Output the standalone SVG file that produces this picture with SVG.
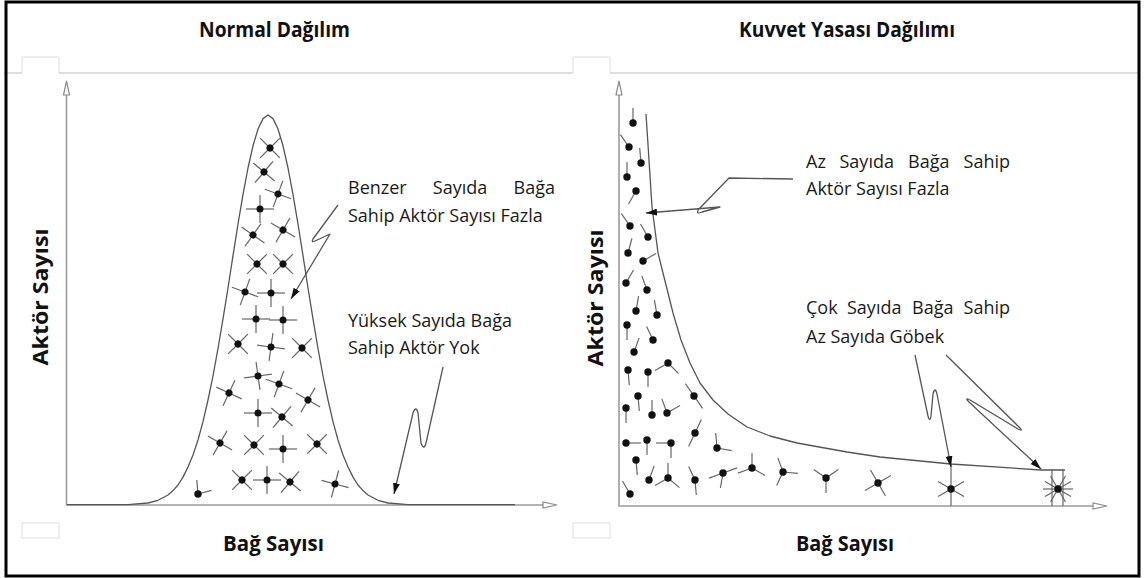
<svg xmlns="http://www.w3.org/2000/svg" width="1147" height="578" viewBox="0 0 1147 578">
<style>
.title{font-family:"Open Sans","Liberation Sans",sans-serif;font-weight:700;font-size:22px;fill:#111;text-anchor:middle}
.ylab{font-family:"Open Sans","Liberation Sans",sans-serif;font-weight:700;font-size:22px;fill:#111;text-anchor:middle}
.note{font-family:"Open Sans","Liberation Sans",sans-serif;font-size:18px;fill:#1a1a1a}
.axis{stroke:#9c9c9c;stroke-width:1.6;fill:none}
.ahead{fill:#fff;stroke:#8a8a8a;stroke-width:1.2}
.curve{stroke:#555;stroke-width:1.3;fill:none;stroke-linejoin:round}
.arm{stroke:#666;stroke-width:1.2}
.dot{fill:#111}
.conn{stroke:#555;stroke-width:1.3;fill:none;stroke-linejoin:round;marker-end:url(#ah)}
.sep{stroke:#bdbdbd;stroke-width:1.2;fill:none}
.notch{stroke:#dedede;stroke-width:1;fill:none}
</style>
<defs>
<marker id="ah" markerUnits="userSpaceOnUse" markerWidth="11" markerHeight="7" refX="11" refY="3.5" orient="auto"><path d="M0,0 L11,3.5 L0,7 z" fill="#111"/></marker>
<line id="a" class="arm" x1="0" y1="0" x2="14" y2="0"/>
<line id="s" class="arm" x1="0" y1="0" x2="15" y2="0"/>
<circle id="d" class="dot" r="3.7"/>
<g id="p"><use href="#a"/><use href="#a" transform="rotate(90)"/><use href="#a" transform="rotate(180)"/><use href="#a" transform="rotate(270)"/><circle class="dot" r="3.5"/></g>
</defs>
<rect x="0" y="0" width="1147" height="578" fill="#fff"/>

<g id="frame">
<path class="sep" d="M4,73 H22 M59,73 H573 M610,73 H1138"/>
<path class="notch" d="M22,73 V57 H59 V73 M573,73 V57 H610 V73"/>
<rect class="notch" x="22" y="523" width="37" height="15"/>
<rect class="notch" x="573" y="523" width="37" height="15"/>
<rect x="6" y="2" width="1133" height="574" fill="none" stroke="#000" stroke-width="3"/>
</g>

<g id="title-left"><text class="title" x="274.5" y="37" textLength="151" lengthAdjust="spacingAndGlyphs">Normal Dağılım</text></g>
<g id="title-right"><text class="title" x="847" y="37" textLength="216" lengthAdjust="spacingAndGlyphs">Kuvvet Yasası Dağılımı</text></g>
<g id="xlabel-left"><text class="title" x="273.5" y="551" textLength="101" lengthAdjust="spacingAndGlyphs">Bağ Sayısı</text></g>
<g id="xlabel-right"><text class="title" x="845" y="551" textLength="98" lengthAdjust="spacingAndGlyphs">Bağ Sayısı</text></g>
<g id="ylabel-left"><text class="ylab" transform="translate(48,297) rotate(-90)" textLength="137" lengthAdjust="spacingAndGlyphs">Aktör Sayısı</text></g>
<g id="ylabel-right"><text class="ylab" transform="translate(603,298) rotate(-90)" textLength="137" lengthAdjust="spacingAndGlyphs">Aktör Sayısı</text></g>

<g id="chart-left">
<path class="axis" d="M66.5,95 V505 H543"/>
<polygon class="ahead" points="66.5,81 63.5,95 69.5,95"/>
<polygon class="ahead" points="557,505 543,502 543,508"/>
<polyline class="curve" points="67,504.6 128,504.6 148,503 158,500.3 168,495 173,490.6 178,485 183,477.1 188,467 193,455 198,440 203,421.7 208,400 213,375.8 218,348.5 223,318.9 228,288 233,255.7 238,224 243,194.6 248,168 253,145.8 258,129 263,118.6 268,115 273,118.6 278,129 283,145.8 288,168 293,194.6 298,224 303,255.7 308,288 313,318.9 318,348.5 323,375.8 328,400 333,421.7 338,440 343,455 348,467 353,477.1 358,485 363,490.6 368,495 378,500.3 388,503 408,504.6 515,504.6"/>
<use href="#p" transform="translate(270,148) rotate(45)"/>
<use href="#p" transform="translate(264,172) rotate(40)"/>
<use href="#p" transform="translate(278,194) rotate(20)"/>
<use href="#p" transform="translate(260,209)"/>
<use href="#p" transform="translate(283,230) rotate(30)"/>
<use href="#p" transform="translate(253,235) rotate(35)"/>
<use href="#p" transform="translate(257,264) rotate(45)"/>
<use href="#p" transform="translate(283,264) rotate(45)"/>
<use href="#p" transform="translate(245,292) rotate(20)"/>
<use href="#p" transform="translate(271,293)"/>
<use href="#p" transform="translate(256,319)"/>
<use href="#p" transform="translate(283,320)"/>
<use href="#p" transform="translate(238,344) rotate(45)"/>
<use href="#p" transform="translate(271,347) rotate(8)"/>
<use href="#p" transform="translate(302,348) rotate(45)"/>
<use href="#p" transform="translate(258,376) rotate(-8)"/>
<use href="#p" transform="translate(279,384) rotate(20)"/>
<use href="#p" transform="translate(229,393) rotate(25)"/>
<use href="#p" transform="translate(308,400) rotate(30)"/>
<use href="#p" transform="translate(258,413)"/>
<use href="#p" transform="translate(282,417) rotate(40)"/>
<use href="#p" transform="translate(220,443) rotate(30)"/>
<use href="#p" transform="translate(254,445) rotate(45)"/>
<use href="#p" transform="translate(283,449)"/>
<use href="#p" transform="translate(317,444) rotate(45)"/>
<use href="#p" transform="translate(242,480) rotate(45)"/>
<use href="#p" transform="translate(267,480)"/>
<use href="#p" transform="translate(290,482) rotate(40)"/>
<use href="#p" transform="translate(335,484) rotate(15)"/>
<g transform="translate(198,494)"><use href="#a" transform="rotate(-95)"/><use href="#a" transform="rotate(-15)"/><use href="#d"/></g>
</g>

<g id="chart-right">
<path class="axis" d="M619,95 V506 H1093"/>
<polygon class="ahead" points="619,81 616,95 622,95"/>
<polygon class="ahead" points="1107,506 1093,503 1093,509"/>
<polyline class="curve" points="646,114 649,160 652,207 658,253 666,285 673,313 681,340 690,363 700,383 713,400 728,414 747,427 770,436 797,443 847,452 880,457 951,464 1041,470 1065,470"/>
<g transform="translate(633,123)"><use href="#s" transform="rotate(-90)"/><use href="#d"/></g>
<g transform="translate(629,147)"><use href="#s" transform="rotate(-125)"/><use href="#d"/></g>
<g transform="translate(641,163)"><use href="#s" transform="rotate(-95)"/><use href="#d"/></g>
<g transform="translate(627,177)"><use href="#s" transform="rotate(-90)"/><use href="#d"/></g>
<g transform="translate(636,191)"><use href="#s" transform="rotate(120)"/><use href="#d"/></g>
<g transform="translate(630,226)"><use href="#s" transform="rotate(-125)"/><use href="#d"/></g>
<g transform="translate(648,237)"><use href="#s" transform="rotate(-120)"/><use href="#d"/></g>
<g transform="translate(628,253)"><use href="#s" transform="rotate(-75)"/><use href="#d"/></g>
<g transform="translate(643,261)"><use href="#s" transform="rotate(-30)"/><use href="#d"/></g>
<g transform="translate(626,283)"><use href="#s" transform="rotate(-60)"/><use href="#d"/></g>
<g transform="translate(647,290)"><use href="#s" transform="rotate(-110)"/><use href="#d"/></g>
<g transform="translate(636,311)"><use href="#s" transform="rotate(-80)"/><use href="#d"/></g>
<g transform="translate(657,315)"><use href="#s" transform="rotate(-100)"/><use href="#d"/></g>
<g transform="translate(627,325)"><use href="#s" transform="rotate(90)"/><use href="#d"/></g>
<g transform="translate(653,340)"><use href="#s" transform="rotate(-115)"/><use href="#d"/></g>
<g transform="translate(634,352)"><use href="#s" transform="rotate(-70)"/><use href="#d"/></g>
<g transform="translate(628,370)"><use href="#s" transform="rotate(85)"/><use href="#d"/></g>
<g transform="translate(648,372)"><use href="#s" transform="rotate(90)"/><use href="#d"/></g>
<g transform="translate(668,363)"><use href="#s" transform="rotate(150)"/><use href="#s" transform="rotate(45)"/><use href="#d"/></g>
<g transform="translate(694,396)"><use href="#s" transform="rotate(-125)"/><use href="#s" transform="rotate(55)"/><use href="#d"/></g>
<g transform="translate(638,396)"><use href="#s" transform="rotate(85)"/><use href="#d"/></g>
<g transform="translate(626,408)"><use href="#s" transform="rotate(90)"/><use href="#d"/></g>
<g transform="translate(652,415)"><use href="#s" transform="rotate(-90)"/><use href="#d"/></g>
<g transform="translate(667,413)"><use href="#s" transform="rotate(-110)"/><use href="#s" transform="rotate(-30)"/><use href="#d"/></g>
<g transform="translate(695,433)"><use href="#s" transform="rotate(-65)"/><use href="#s" transform="rotate(115)"/><use href="#d"/></g>
<g transform="translate(626,443)"><use href="#s" transform="rotate(0)"/><use href="#d"/></g>
<g transform="translate(647,440)"><use href="#s" transform="rotate(90)"/><use href="#d"/></g>
<g transform="translate(671,443)"><use href="#s" transform="rotate(180)"/><use href="#s" transform="rotate(90)"/><use href="#d"/></g>
<g transform="translate(717,448)"><use href="#s" transform="rotate(-95)"/><use href="#s" transform="rotate(10)"/><use href="#d"/></g>
<g transform="translate(636,460)"><use href="#s" transform="rotate(85)"/><use href="#d"/></g>
<g transform="translate(649,480)"><use href="#s" transform="rotate(-70)"/><use href="#d"/></g>
<g transform="translate(668,478)"><use href="#s" transform="rotate(-90)"/><use href="#s" transform="rotate(150)"/><use href="#s" transform="rotate(40)"/><use href="#d"/></g>
<g transform="translate(695,480)"><use href="#s" transform="rotate(-115)"/><use href="#s" transform="rotate(85)"/><use href="#d"/></g>
<g transform="translate(723,473)"><use href="#s" transform="rotate(160)"/><use href="#s" transform="rotate(100)"/><use href="#s" transform="rotate(-20)"/><use href="#d"/></g>
<g transform="translate(752,468)"><use href="#s" transform="rotate(-90)"/><use href="#s" transform="rotate(160)"/><use href="#s" transform="rotate(30)"/><use href="#d"/></g>
<g transform="translate(783,472)"><use href="#s" transform="rotate(-110)"/><use href="#s" transform="rotate(5)"/><use href="#s" transform="rotate(115)"/><use href="#d"/></g>
<g transform="translate(826,478)"><use href="#s" transform="rotate(-145)"/><use href="#s" transform="rotate(-35)"/><use href="#s" transform="rotate(90)"/><use href="#d"/></g>
<g transform="translate(630,494)"><use href="#s" transform="rotate(-120)"/><use href="#d"/></g>
<g transform="translate(878,483)"><use href="#s" transform="rotate(-120)"/><use href="#s" transform="rotate(-30)"/><use href="#s" transform="rotate(60)"/><use href="#s" transform="rotate(150)"/><use href="#d"/></g>
<g transform="translate(951,489)"><line class="arm" x1="0" y1="-25" x2="0" y2="17"/><use href="#s" transform="rotate(-150)"/><use href="#s" transform="rotate(-30)"/><use href="#s" transform="rotate(30)"/><use href="#s" transform="rotate(150)"/><use href="#d"/></g>
<g transform="translate(1058,489)"><line class="arm" x1="-6" y1="-20" x2="-6" y2="17"/><line class="arm" x1="5" y1="-20" x2="5" y2="17"/><use href="#s" transform="rotate(0)"/><use href="#s" transform="rotate(30)"/><use href="#s" transform="rotate(60)"/><use href="#s" transform="rotate(120)"/><use href="#s" transform="rotate(150)"/><use href="#s" transform="rotate(180)"/><use href="#s" transform="rotate(210)"/><use href="#s" transform="rotate(240)"/><use href="#s" transform="rotate(300)"/><use href="#s" transform="rotate(330)"/><use href="#d"/></g>
</g>

<g id="note-benzer">
<text class="note" x="348" y="194">Benzer</text>
<text class="note" x="460" y="194" text-anchor="middle">Sayıda</text>
<text class="note" x="555" y="194" text-anchor="end">Bağa</text>
<text class="note" x="348" y="222">Sahip Aktör Sayısı Fazla</text>
</g>
<g id="note-yuksek">
<text class="note" x="348" y="327">Yüksek Sayıda Bağa</text>
<text class="note" x="348" y="354">Sahip Aktör Yok</text>
</g>
<g id="note-az">
<text class="note" x="806" y="168">Az</text>
<text class="note" x="839.5" y="168">Sayıda</text>
<text class="note" x="908" y="168">Bağa</text>
<text class="note" x="1010" y="168" text-anchor="end">Sahip</text>
<text class="note" x="806" y="195">Aktör Sayısı Fazla</text>
</g>
<g id="note-cok">
<text class="note" x="806" y="314">Çok</text>
<text class="note" x="847" y="314">Sayıda</text>
<text class="note" x="912" y="314">Bağa</text>
<text class="note" x="1010" y="314" text-anchor="end">Sahip</text>
<text class="note" x="806" y="343">Az Sayıda Göbek</text>
</g>

<g id="connectors">
<path class="conn" d="M338,205 L313,239 Q311,243 315,241 L330,234 L291,299"/>
<path class="conn" d="M443,367 L426,443 Q424,451 421,443 L418,413 Q416,405 413,413 L394,494"/>
<path class="conn" d="M793,179 L729,178 L699,209 Q695,215 702,212 L720,207 L646,213"/>
<path class="conn" d="M915,355 L928,416 Q930,423 931,416 L933,394 Q935,386 937,394 L951,467"/>
<path class="conn" d="M946,355 L1019,427 Q1024,432 1018,429 L970,400 Q964,397 969,402 L1041,469"/>
</g>
</svg>
